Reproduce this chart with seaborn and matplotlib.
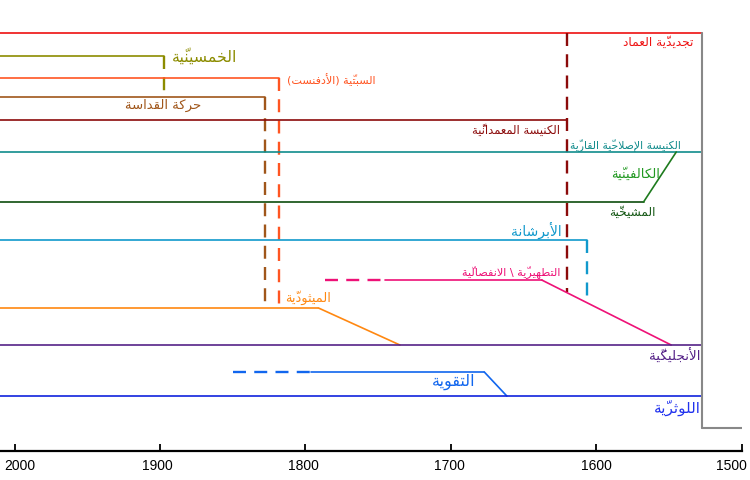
import matplotlib
matplotlib.use("Agg")
import matplotlib.pyplot as plt
import matplotlib.transforms as mtransforms
import seaborn as sns

sns.set_theme(style="white")
plt.rcParams['font.family'] = ['DejaVu Sans']

present = 2010
reform_year = 1527

seg_key = ["anabaptist", "pentecostal", "pentecostal", "adventist", "adventist",
           "holiness", "holiness", "baptist", "baptist", "reformed",
           "presbyterian", "calvinist", "congregational", "congregational",
           "puritan", "puritan", "puritan", "methodist", "methodist",
           "anglican", "pietism", "pietism", "pietism", "lutheran",
           "reformation", "reformation"]
year_from = [present, present, 1897, present, 1818, present, 1827.5, present, 1620, present,
             present, 1567.5, present, 1606.5, 1786.5, 1745.5, 1637.5, present, 1791,
             present, 1850, 1796, 1677, present, reform_year, reform_year]
year_to = [reform_year, 1897, 1897, 1818, 1818, 1827.5, 1827.5, 1620, 1620, reform_year,
           1567.5, 1545, 1606.5, 1606.5, 1745.5, 1637.5, 1548.5, 1791, 1735,
           reform_year, 1796, 1677, 1661.5, reform_year, reform_year, 1500]
row_from = [33, 56, 56, 78, 78, 97, 97, 120, 33, 152,
            202, 202, 240, 240, 280, 280, 280, 308, 308,
            345, 372, 372, 372, 396, 33, 428]
row_to = [33, 56, 97, 78, 308, 97, 308, 120, 292, 152,
          202, 152, 240, 302, 280, 280, 345, 308, 345,
          345, 372, 372, 396, 396, 428, 428]
dashed = [False, False, True, False, True, False, True, False, True, False,
          False, False, False, True, True, False, False, False, False,
          False, True, False, False, False, False, False]

label_key = ["anabaptist", "pentecostal", "adventist", "holiness", "baptist", "reformed",
             "calvinist", "presbyterian", "congregational", "puritan", "methodist",
             "anglican", "pietism", "lutheran"]
label_text = ["تجديديّة العماد", "الخمسينيّة", "السبتيّة (الأدفنست)", "حركة القداسة",
              "الكنيسة المعمدانيّة", "الكنيسة الإصلاحيّة القاريّة", "الكالفينيّة", "المشيخيّة",
              "الأبرشانة", "التطهيريّة \\ الانفصاليّة", "الميثوديّة", "الأنجليكيّة",
              "التقوية", "اللوثريّة"]
label_year = [1533.5, 1891.5, 1812.5, 1898, 1625, 1542, 1573, 1575.5, 1623.5, 1625,
              1814, 1528.5, 1698, 1528.5]
label_row = [42, 56, 80, 105, 130, 145, 174, 212, 230, 272, 298, 356, 382, 408]
label_ha = ["right", "left", "left", "center", "right", "right", "center", "center",
            "right", "right", "left", "right", "center", "right"]
label_size = [8.8, 11.3, 8, 9.5, 8.3, 7.8, 9.5, 8.7, 10, 8.1, 9.4, 9.7, 11.5, 11]

tick_years = [2000, 1900, 1800, 1700, 1600, 1500]
tick_shift_px = [5.5, -2.5, -2, -1, 0, -10]

colors = {
    "anabaptist": "#ee1111", "pentecostal": "#8c8c00", "adventist": "#ff5522",
    "holiness": "#a0561a", "baptist": "#8b0a0a", "reformed": "#118c8c",
    "calvinist": "#1e7b1e", "presbyterian": "#0d4d0d", "congregational": "#1199cc",
    "puritan": "#ee1177", "methodist": "#ff8811", "anglican": "#552288",
    "pietism": "#1166ee", "lutheran": "#1122dd", "reformation": "#888888",
}
label_colors = dict(colors, calvinist="#229922", presbyterian="#115511", lutheran="#2233ee")

# --- minimal Arabic shaping (presentation forms + right-to-left order) ---
AR = {
    'ء': (0xFE80, 1), 'آ': (0xFE81, 2), 'أ': (0xFE83, 2), 'ؤ': (0xFE85, 2), 'إ': (0xFE87, 2),
    'ئ': (0xFE89, 4), 'ا': (0xFE8D, 2), 'ب': (0xFE8F, 4), 'ة': (0xFE93, 2), 'ت': (0xFE95, 4),
    'ث': (0xFE99, 4), 'ج': (0xFE9D, 4), 'ح': (0xFEA1, 4), 'خ': (0xFEA5, 4), 'د': (0xFEA9, 2),
    'ذ': (0xFEAB, 2), 'ر': (0xFEAD, 2), 'ز': (0xFEAF, 2), 'س': (0xFEB1, 4), 'ش': (0xFEB5, 4),
    'ص': (0xFEB9, 4), 'ض': (0xFEBD, 4), 'ط': (0xFEC1, 4), 'ظ': (0xFEC5, 4), 'ع': (0xFEC9, 4),
    'غ': (0xFECD, 4), 'ف': (0xFED1, 4), 'ق': (0xFED5, 4), 'ك': (0xFED9, 4), 'ل': (0xFEDD, 4),
    'م': (0xFEE1, 4), 'ن': (0xFEE5, 4), 'ه': (0xFEE9, 4), 'و': (0xFEED, 2), 'ى': (0xFEEF, 2),
    'ي': (0xFEF1, 4),
}
LAM_ALEF = {'آ': 0xFEF5, 'أ': 0xFEF7, 'إ': 0xFEF9, 'ا': 0xFEFB}
MIRROR = {'(': ')', ')': '('}


def is_mark(c):
    return 0x064B <= ord(c) <= 0x065F or ord(c) == 0x0670


def nforms(b):
    if b.startswith("LA"):
        return 2
    return AR[b][1] if b in AR else 0


def shape(text):
    clusters = []
    for c in text:
        if is_mark(c) and clusters:
            clusters[-1][1] += c
        else:
            clusters.append([c, ""])
    merged = []
    i = 0
    while i < len(clusters):
        b, m = clusters[i]
        if b == 'ل' and i + 1 < len(clusters) and clusters[i + 1][0] in LAM_ALEF:
            merged.append(["LA" + clusters[i + 1][0], m + clusters[i + 1][1]])
            i += 2
        else:
            merged.append([b, m])
            i += 1
    out = []
    for i, (b, m) in enumerate(merged):
        n = nforms(b)
        if n == 0:
            out.append(MIRROR.get(b, b) + m)
            continue
        prev_joins = i > 0 and nforms(merged[i - 1][0]) == 4
        next_joins = n == 4 and i + 1 < len(merged) and nforms(merged[i + 1][0]) > 0
        if b.startswith("LA"):
            code = LAM_ALEF[b[2]] + (1 if prev_joins else 0)
        else:
            base = AR[b][0]
            if n == 1:
                code = base
            elif prev_joins and next_joins:
                code = base + 3
            elif prev_joins:
                code = base + 1
            elif next_joins:
                code = base + 2
            else:
                code = base
        out.append(chr(code) + m)
    return "".join(reversed(out))


fig = plt.figure(figsize=(7.5, 4.8), dpi=100)
ax = fig.add_axes([0, 29 / 480, 741.7 / 750, 451 / 480])

for i, key in enumerate(seg_key):
    sns.lineplot(x=[year_from[i], year_to[i]], y=[row_from[i], row_to[i]], ax=ax,
                 color=colors[key], estimator=None, sort=False,
                 linewidth=1.7 if dashed[i] else (1.5 if key == "reformation" else 1.2),
                 linestyle=(0, (5.5, 3.5)) if dashed[i] else "-")

for i, key in enumerate(label_key):
    ax.text(label_year[i], label_row[i], shape(label_text[i]), color=label_colors[key],
            ha=label_ha[i], va="center", fontsize=label_size[i])

ax.set_xlim(present, 1500)
ax.set_ylim(451, 0)
ax.set_yticks([])
ax.set_xticks(tick_years)
ax.set_xticklabels([str(y) for y in tick_years], family="Liberation Sans")
ax.tick_params(axis="x", direction="in", length=5, width=1.3, colors="black",
               labelsize=10, pad=6, bottom=True)
for lab, dx in zip(ax.get_xticklabels(), tick_shift_px):
    lab.set_transform(lab.get_transform() +
                      mtransforms.ScaledTranslation(dx / 100, 0, fig.dpi_scale_trans))
ax.set_xlabel("")
ax.set_ylabel("")
for side in ["left", "right", "top"]:
    ax.spines[side].set_visible(False)
ax.spines["bottom"].set_color("black")
ax.spines["bottom"].set_linewidth(1.6)
ax.grid(False)

fig.savefig("out.png", dpi=100)
